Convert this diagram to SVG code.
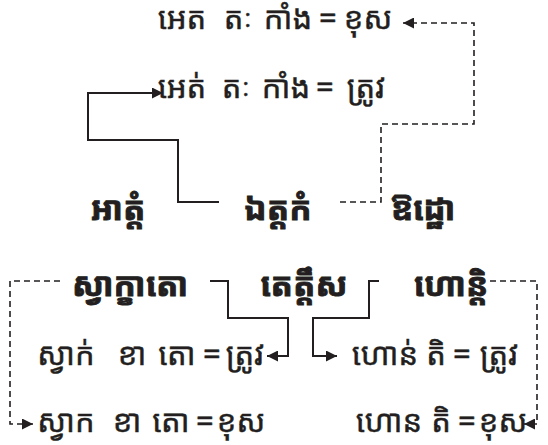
<svg xmlns="http://www.w3.org/2000/svg" width="548" height="445" viewBox="0 0 548 445">
<style>
.t{font-family:"Noto Sans Khmer","Khmer OS","Noto Serif Khmer","Khmer OS System",sans-serif;font-size:31px;fill:#231f20;stroke:#231f20;stroke-width:0.45;text-anchor:middle}
.b{font-family:"Noto Sans Khmer","Khmer OS","Noto Serif Khmer","Khmer OS System",sans-serif;font-size:33px;font-weight:bold;fill:#231f20;stroke:#231f20;stroke-width:0.9;text-anchor:middle}
.s{fill:none;stroke:#231f20;stroke-width:2}
.d{fill:none;stroke:#231f20;stroke-width:1.6;stroke-dasharray:6 4}
</style>
<defs>
<marker id="ah" viewBox="0 0 10 10" refX="10" refY="5" markerWidth="14" markerHeight="11" markerUnits="userSpaceOnUse" orient="auto"><path d="M0,0 L10,5 L0,10 Z" fill="#231f20"/></marker>
</defs>
<g id="connectors">
<path class="s" d="M219,202 H178 V140 H88 V93 H163" marker-end="url(#ah)"/>
<path class="d" d="M340,202 H381 V124 H474 V23 H403" marker-end="url(#ah)"/>
<path class="s" d="M210,281 H228 V318 H288 V356 H267" marker-end="url(#ah)"/>
<path class="s" d="M379,281 H369 V318 H313 V356 H337" marker-end="url(#ah)"/>
<path class="d" d="M60,281 H10 V424 H33" marker-end="url(#ah)"/>
<path class="d" d="M490,281 H537 V424 H524" marker-end="url(#ah)"/>
</g>
<g id="n1"><text class="t" y="29"><tspan x="186">អេត</tspan> <tspan x="242">តៈ</tspan> <tspan x="292">កាំង</tspan> <tspan x="332">=</tspan> <tspan x="368">ខុស</tspan></text></g>
<g id="n2"><text class="t" y="98"><tspan x="186">អេត់</tspan> <tspan x="240">តៈ</tspan> <tspan x="290">កាំង</tspan> <tspan x="329">=</tspan> <tspan x="366">ត្រូវ</tspan></text></g>
<g id="n3"><text class="b" x="118" y="220">អាត្តំ</text></g>
<g id="n4"><text class="b" x="278" y="220">ឯត្តកំ</text></g>
<g id="n5"><text class="b" x="423" y="220">ឱដ្ឋោ</text></g>
<g id="n6"><text class="b" x="130" y="296">ស្វាក្ខាតោ</text></g>
<g id="n7"><text class="b" x="304" y="296">តេត្តឹស</text></g>
<g id="n8"><text class="b" x="451" y="296">ហោន្តិ</text></g>
<g id="n9"><text class="t" y="365"><tspan x="70">ស្វាក់</tspan> <tspan x="136">ខា</tspan> <tspan x="181">តោ</tspan> <tspan x="216">=</tspan> <tspan x="245">ត្រូវ</tspan></text></g>
<g id="n10"><text class="t" y="365"><tspan x="389">ហោន់</tspan> <tspan x="440">តិ</tspan> <tspan x="466">=</tspan> <tspan x="499">ត្រូវ</tspan></text></g>
<g id="n11"><text class="t" y="432"><tspan x="70">ស្វាក</tspan> <tspan x="131">ខា</tspan> <tspan x="175">តោ</tspan> <tspan x="209">=</tspan> <tspan x="241">ខុស</tspan></text></g>
<g id="n12"><text class="t" y="432"><tspan x="393">ហោន</tspan> <tspan x="445">តិ</tspan> <tspan x="471">=</tspan> <tspan x="503">ខុស</tspan></text></g>
</svg>
